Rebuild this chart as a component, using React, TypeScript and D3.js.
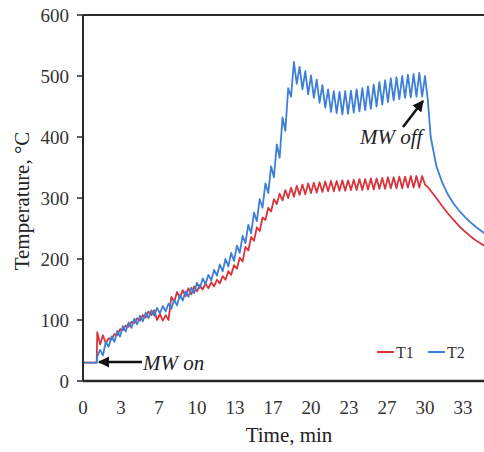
import React from "react";
import * as d3 from "d3";

const times = [
  0, 1.2,
  1.25, 1.5, 1.75, 2, 2.25, 2.5, 2.75, 3, 3.25, 3.5, 3.75, 4, 4.25, 4.5, 4.75, 5,
  5.25, 5.5, 5.75, 6, 6.25, 6.5, 6.75, 7, 7.25, 7.5, 7.75, 8, 8.25, 8.5, 8.75, 9,
  9.25, 9.5, 9.75, 10, 10.25, 10.5, 10.75, 11, 11.25, 11.5, 11.75, 12, 12.25, 12.5, 12.75, 13,
  13.25, 13.5, 13.75, 14, 14.25, 14.5, 14.75, 15, 15.25, 15.5, 15.75, 16, 16.25, 16.5, 16.75, 17,
  17.25, 17.5, 17.75, 18, 18.25, 18.5, 18.75, 19, 19.25, 19.5, 19.75, 20, 20.25, 20.5, 20.75, 21,
  21.25, 21.5, 21.75, 22, 22.25, 22.5, 22.75, 23, 23.25, 23.5, 23.75, 24, 24.25, 24.5, 24.75, 25,
  25.25, 25.5, 25.75, 26, 26.25, 26.5, 26.75, 27, 27.25, 27.5, 27.75, 28, 28.25, 28.5, 28.75, 29,
  29.25, 29.5, 29.75, 30,
  30.25, 30.5, 31, 31.5, 32, 32.5, 33, 33.5, 34, 34.5, 35, 35.5, 36,
];

const T1 = [
  30, 30,
  80, 60, 75, 62, 70, 68, 77, 75, 85, 83, 91, 89, 97, 95, 103, 99,
  108, 104, 114, 108, 116, 100, 110, 99, 108, 100, 138, 130, 146, 136, 149, 139,
  152, 142, 155, 147, 157, 150, 160, 152, 162, 155, 166, 160, 172, 166, 180, 174,
  190, 184, 202, 196, 220, 214, 236, 230, 252, 246, 268, 264, 284, 278, 298, 290,
  307, 296, 313, 300, 317, 302, 320, 305, 322, 306, 324, 308, 325, 309, 326, 310,
  327, 311, 328, 311, 328, 312, 329, 312, 329, 313, 330, 313, 331, 313, 331, 314,
  332, 314, 332, 315, 333, 315, 334, 316, 334, 316, 335, 316, 335, 317, 336, 317,
  336, 317, 336, 322,
  318, 312, 300, 287, 275, 264, 254, 245, 237, 230, 224, 218, 213,
];

const T2 = [
  30, 30,
  40, 51, 42, 64, 56, 73, 64, 82, 73, 90, 81, 96, 87, 102, 93, 107,
  98, 112, 103, 116, 107, 120, 111, 123, 114, 127, 118, 133, 124, 141, 132, 147,
  138, 153, 144, 161, 152, 168, 159, 174, 165, 182, 173, 191, 180, 200, 188, 210,
  197, 222, 210, 238, 226, 256, 242, 276, 262, 298, 284, 324, 308, 352, 334, 388,
  366, 432, 410, 480, 466, 523, 487, 515, 478, 508, 470, 501, 464, 494, 456, 485,
  448, 478, 441, 475, 439, 474, 437, 475, 438, 476, 440, 478, 442, 480, 444, 483,
  446, 486, 450, 490, 453, 493, 457, 496, 460, 498, 462, 500, 464, 502, 465, 503,
  466, 505, 466, 500,
  460, 400, 352, 326, 306, 291, 279, 269, 260, 252, 245, 239, 234,
];

const yTicks = [0, 100, 200, 300, 400, 500, 600];
const xTicks = [0, 10 / 3, 20 / 3, 10, 40 / 3, 50 / 3, 20, 70 / 3, 80 / 3, 30, 100 / 3];
const seriesNames = ["T1", "T2"];
const seriesColors = ["#d9343c", "#3d7fd6"];

const W = 484;
const H = 452;

export default function App() {
  const x = d3.scaleLinear().domain([0, 110 / 3]).range([83, 501]);
  const y = d3.scaleLinear().domain([0, 600]).range([381, 15]);
  const line = d3
    .line<number>()
    .x((_, i) => x(times[i]))
    .y((d) => y(d));
  const serif = "'Liberation Serif', 'Times New Roman', serif";
  const axisColor = "#2a2a2a";
  const textColor = "#333";

  return (
    <svg
      width={W}
      height={H}
      style={{ position: "absolute", left: 0, top: 0, background: "#fff" }}
      fontFamily={serif}
    >
      <defs>
        <marker id="ah" viewBox="0 0 10 10" refX="9" refY="5" markerWidth="4.5" markerHeight="4.5" orient="auto-start-reverse" markerUnits="strokeWidth">
          <path d="M0,0 L10,5 L0,10 z" fill="#111" />
        </marker>
      </defs>
      {/* y ticks */}
      {yTicks.map((t) => (
        <g key={t}>
          <line x1={77} x2={83} y1={y(t)} y2={y(t)} stroke={axisColor} strokeWidth={1.5} />
          <text x={69} y={y(t)} dy="0.35em" textAnchor="end" fontSize={19} fill={textColor}>
            {t}
          </text>
        </g>
      ))}
      {xTicks.map((t, i) => (
        <text key={i} x={x(t)} y={414} textAnchor="middle" fontSize={19} fill={textColor}>
          {Math.round(t)}
        </text>
      ))}
      {/* series */}
      {[T1, T2].map((s, i) => (
        <path key={i} d={line(s) || ""} fill="none" stroke={seriesColors[i]} strokeWidth={1.8} strokeLinejoin="round" />
      ))}
      {/* axes / frame */}
      <line x1={83} x2={W} y1={y(600)} y2={y(600)} stroke={axisColor} strokeWidth={2} />
      <line x1={83} x2={W} y1={y(0)} y2={y(0)} stroke={axisColor} strokeWidth={2.5} />
      <line x1={83} x2={83} y1={y(600)} y2={y(0)} stroke={axisColor} strokeWidth={2} />
      {/* titles */}
      <text x={289} y={442} textAnchor="middle" fontSize={21} fill="#222">
        Time, min
      </text>
      <text transform={`translate(29,201) rotate(-90)`} textAnchor="middle" fontSize={21} fill="#222">
        Temperature, °C
      </text>
      {/* legend */}
      {seriesNames.map((n, i) => (
        <g key={n}>
          <line x1={377 + i * 51} x2={394 + i * 51} y1={352} y2={352} stroke={seriesColors[i]} strokeWidth={2} />
          <text x={396 + i * 51} y={357.5} fontSize={16} fill="#333">
            {n}
          </text>
        </g>
      ))}
      {/* annotations */}
      <line x1={142} y1={362} x2={99} y2={362} stroke="#111" strokeWidth={2.5} markerEnd="url(#ah)" />
      <text x={143} y={369.5} fontSize={21} fontStyle="italic" fill="#222">
        MW on
      </text>
      <line x1={403} y1={127} x2={423} y2={101} stroke="#111" strokeWidth={2.5} markerEnd="url(#ah)" />
      <text x={360} y={144} fontSize={21} fontStyle="italic" fill="#222">
        MW off
      </text>
    </svg>
  );
}
